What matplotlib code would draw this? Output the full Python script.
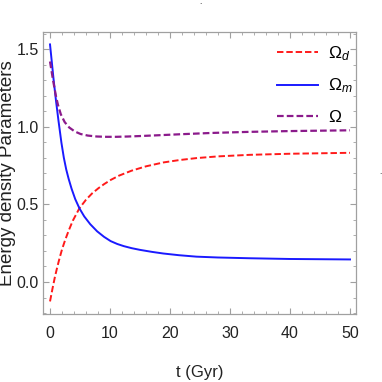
#!/usr/bin/env python3
"""Energy density parameters vs cosmic time (Mathematica-style frame)."""
import matplotlib
matplotlib.use("Agg")
import matplotlib.pyplot as plt
from matplotlib import font_manager
from matplotlib.ticker import MultipleLocator

# values
t_d = [0, 0.4, 0.8, 1.2, 1.6, 2.0, 2.5, 3.1, 3.8, 4.9, 6.0, 7.0, 8.1, 9.0, 10.1,
       11.5, 13.6, 16, 18.9, 21.5, 24.4, 28, 33.3, 40, 50]
omega_d = [-0.125, -0.045, 0.03, 0.095, 0.155, 0.21, 0.268, 0.33, 0.395, 0.475,
           0.53, 0.57, 0.605, 0.63, 0.657, 0.685, 0.717, 0.745, 0.77, 0.785, 0.798,
           0.809, 0.819, 0.826, 0.832]

t_m = [0, 0.3, 0.6, 1.0, 1.4, 1.9, 2.3, 2.7, 3.1, 3.6, 4.2, 4.9, 5.7, 6.7, 7.85,
       9.0, 10.1, 11.2, 12.3, 13.6, 15, 17, 18.9, 21.5, 24.4, 28, 33.3, 40, 50]
omega_m = [1.53, 1.416, 1.302, 1.166, 1.042, 0.897, 0.801, 0.725, 0.665, 0.60,
           0.534, 0.4745, 0.4225, 0.3725, 0.3265, 0.291, 0.2635, 0.245, 0.231,
           0.218, 0.207, 0.194, 0.1835, 0.1726, 0.1633, 0.1579, 0.153, 0.1483,
           0.1453]

t_tot = [0, 0.5, 1.0, 1.33, 1.8, 2.44, 3.2, 4.1, 5.1, 6.3, 7.8, 9.4, 11, 13, 15,
         18, 22, 27, 33.3, 40, 50]
omega_tot = [1.42, 1.30, 1.195, 1.14, 1.08, 1.03, 0.995, 0.97, 0.953, 0.943, 0.937,
             0.935, 0.935, 0.937, 0.94, 0.945, 0.952, 0.96, 0.967, 0.972, 0.977]

xticks = [0, 10, 20, 30, 40, 50]
yticks = [0.0, 0.5, 1.0, 1.5]


def pick_font(names):
    for name in names:
        try:
            font_manager.findfont(name, fallback_to_default=False)
            return name
        except ValueError:
            pass
    return "DejaVu Sans"


narrow = pick_font(["Liberation Sans Narrow", "Liberation Sans"])
plt.rcParams["font.family"] = [narrow, "DejaVu Sans"]
plt.rcParams["mathtext.fontset"] = "custom"
plt.rcParams["mathtext.rm"] = "Liberation Sans"
plt.rcParams["mathtext.it"] = "Liberation Sans:italic"

fig = plt.figure(figsize=(3.82, 3.82), dpi=100)
ax = fig.add_axes([43 / 382, 68 / 382, 313 / 382, 282 / 382])

ax.plot(t_d, omega_d, color="#ff1a1a", lw=1.4, dashes=(3.3, 1.5), label=r"$\Omega_d$")
ax.plot(t_m, omega_m, color="#1a1aff", lw=1.4, label=r"$\Omega_m$")
ax.plot(t_tot, omega_tot, color="#8b1a8b", lw=1.6, dashes=(3.0, 1.4), label=r"$\Omega$")

ax.set_xlim(-1.17, 51.0)
ax.set_ylim(-0.206, 1.61)
ax.set_xticks(xticks)
ax.set_yticks(yticks)
ax.set_yticklabels([f"{v:.1f}" for v in yticks])
ax.xaxis.set_minor_locator(MultipleLocator(2))
ax.yaxis.set_minor_locator(MultipleLocator(0.1))
ax.tick_params(which="both", direction="in", top=True, right=True,
               color="#a0a0a0", labelcolor="#222222", labelsize=11.5)
ax.tick_params(which="major", length=4, width=0.8)
ax.tick_params(which="minor", length=2.5, width=0.6)
ax.tick_params(axis="x", pad=9)
ax.tick_params(axis="y", pad=3)
for sp in ax.spines.values():
    sp.set_color("#a0a0a0")
    sp.set_linewidth(0.9)

ax.set_xlabel("t (Gyr)", fontsize=12, color="#222222")
ax.set_ylabel("Energy density Parameters", fontsize=13.5, color="#222222",
              family=["Liberation Sans", "DejaVu Sans"])
ax.xaxis.set_label_coords(0.5, (314 - 372) / 282)
ax.yaxis.set_label_coords((8 - 43) / 313, 0.5)
ax.xaxis.label.set_va("center")
ax.yaxis.label.set_va("center")

ax.legend(loc="upper left", bbox_to_anchor=(277 / 382, 1 - 44 / 382),
          bbox_transform=fig.transFigure, frameon=False, borderpad=0,
          borderaxespad=0, handlelength=2.36, handletextpad=0.6,
          labelspacing=0.8, fontsize=12.5)

# stray specks present in the original image
fig.text(200 / 382, 1 - 3 / 382, ".", fontsize=6, ha="center", va="center")
fig.text(380 / 382, 1 - 173 / 382, ".", fontsize=6, ha="center", va="center")

fig.savefig("out.png", dpi=100, facecolor="white")
